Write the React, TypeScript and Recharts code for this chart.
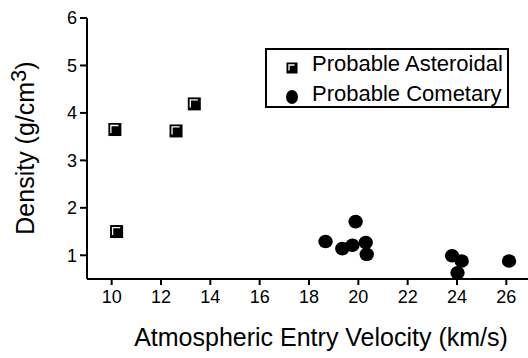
import React from 'react';
import { ScatterChart, Scatter, XAxis, YAxis, Legend } from 'recharts';

const asteroidalVelocity = [10.13, 12.61, 13.35, 10.2];
const asteroidalDensity = [3.65, 3.62, 4.19, 1.5];

const cometaryVelocity = [18.67, 19.35, 19.76, 19.89, 20.3, 20.34, 23.8, 24.19, 24.02, 26.11];
const cometaryDensity = [1.29, 1.14, 1.21, 1.71, 1.27, 1.02, 0.99, 0.88, 0.63, 0.88];

const xTicks = [10, 12, 14, 16, 18, 20, 22, 24, 26];
const yTicks = [1, 2, 3, 4, 5, 6];

const asteroidal = asteroidalVelocity.map((v, i) => ({ v, d: asteroidalDensity[i] }));
const cometary = cometaryVelocity.map((v, i) => ({ v, d: cometaryDensity[i] }));

const FONT = '"Liberation Sans", Arial, Helvetica, sans-serif';

const SquareMark = ({ cx, cy, size = 13 }: { cx: number; cy: number; size?: number }) => {
    const h = size / 2;
    const x = cx - h;
    const y = cy - h;
    return (
        <g>
            <rect x={x} y={y} width={size} height={size} fill="#000" />
            <path
                d={`M${x + 2.5},${y + size - 3} V${y + 2.5} H${x + size - 3}`}
                stroke="#fff"
                strokeWidth={1.3}
                fill="none"
            />
        </g>
    );
};

const CircleMark = ({ cx, cy }: { cx: number; cy: number }) => (
    <ellipse cx={cx} cy={cy} rx={7.2} ry={6.8} fill="#000" />
);

const LegendBox = () => (
    <div
        style={{
            width: 244,
            height: 60,
            border: '2px solid #000',
            boxSizing: 'border-box',
            fontFamily: FONT,
            fontSize: 22,
            color: '#000',
            position: 'relative',
        }}
    >
        <svg width={40} height={60} style={{ position: 'absolute', left: 0, top: 0 }}>
            <SquareMark cx={25} cy={18} size={11} />
            <ellipse cx={25} cy={47} rx={6} ry={7} fill="#000" />
        </svg>
        <div style={{ position: 'absolute', left: 45, top: -1, lineHeight: '30px', whiteSpace: 'nowrap' }}>
            <div>Probable Asteroidal</div>
            <div>Probable Cometary</div>
        </div>
    </div>
);

export default function App() {
    return (
        <div style={{ position: 'absolute', left: 0, top: 0, width: 528, height: 358, overflow: 'hidden', background: '#fff' }}>
            <ScatterChart width={531} height={358} margin={{ top: 18, right: 0, bottom: 0, left: 0 }}>
                <XAxis
                    type="number"
                    dataKey="v"
                    domain={[9, 27]}
                    ticks={xTicks}
                    axisLine={{ stroke: '#000', strokeWidth: 2 }}
                    tickLine={{ stroke: '#000', strokeWidth: 2 }}
                    tickSize={6}
                    tickMargin={5}
                    tick={{ fill: '#000', fontSize: 18, fontFamily: FONT }}
                    height={79}
                    label={{
                        content: () => (
                            <text x={321} y={346} textAnchor="middle" fontSize={25} fontFamily={FONT} fill="#000">
                                Atmospheric Entry Velocity (km/s)
                            </text>
                        ),
                    }}
                />
                <YAxis
                    type="number"
                    dataKey="d"
                    domain={[0.5, 6]}
                    ticks={yTicks}
                    axisLine={{ stroke: '#000', strokeWidth: 2 }}
                    tickLine={{ stroke: '#000', strokeWidth: 2 }}
                    tickSize={7}
                    tickMargin={3}
                    tick={{ fill: '#000', fontSize: 18, fontFamily: FONT }}
                    width={87}
                    label={{
                        content: () => (
                            <text
                                x={34}
                                y={148}
                                textAnchor="middle"
                                transform="rotate(-90, 34, 148)"
                                fontSize={25}
                                fontFamily={FONT}
                                fill="#000"
                            >
                                Density (g/cm
                                <tspan dy={-8} fontSize={22}>3</tspan>
                                <tspan dy={8}>)</tspan>
                            </text>
                        ),
                    }}
                />
                <Legend
                    layout="vertical"
                    align="center"
                    verticalAlign="middle"
                    wrapperStyle={{ left: 265, top: 48, width: 244, height: 60 }}
                    content={() => <LegendBox />}
                />
                <Scatter
                    name="Probable Asteroidal"
                    data={asteroidal}
                    isAnimationActive={false}
                    shape={(p: any) => <SquareMark cx={p.cx} cy={p.cy} />}
                />
                <Scatter
                    name="Probable Cometary"
                    data={cometary}
                    isAnimationActive={false}
                    shape={(p: any) => <CircleMark cx={p.cx} cy={p.cy} />}
                />
            </ScatterChart>
        </div>
    );
}
